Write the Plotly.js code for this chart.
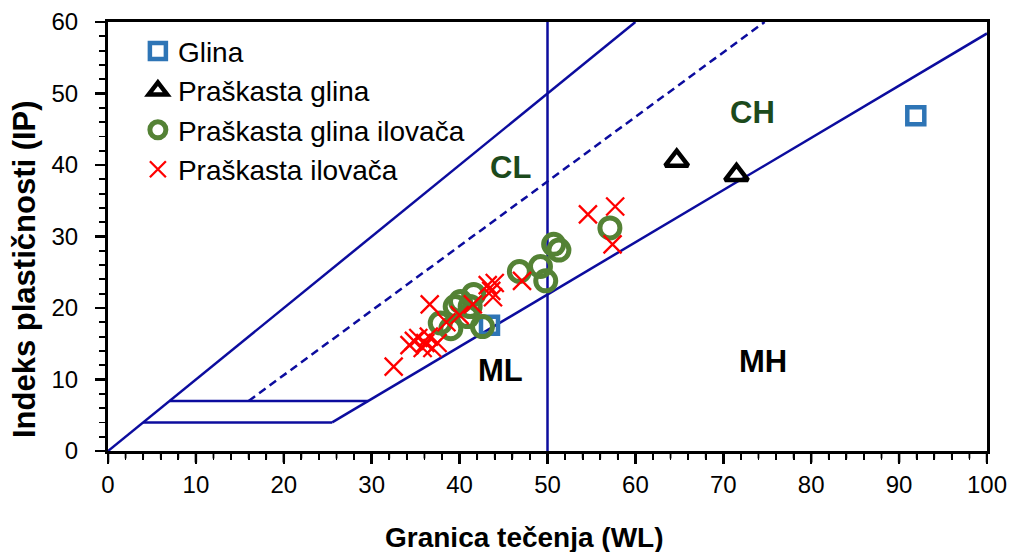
<!DOCTYPE html>
<html>
<head>
<meta charset="utf-8">
<script src="https://cdn.plot.ly/plotly-3.0.1.min.js"></script>
<style>html,body{margin:0;padding:0;background:#fff;}#chart{width:1013px;height:552px;}</style>
</head>
<body>
<div id="chart"></div>
<script>
// ---- Data ----
const glinaLL = [91.9, 43.4];
const glinaIP = [46.9, 17.6];

const praskGlinaLL = [64.7, 71.5];
const praskGlinaIP = [40.6, 38.6];

const praskGlinaIlovacaLL = [37.8, 39.0, 39.5, 40.1, 41.2, 40.9, 41.6, 42.6, 46.8, 49.2, 49.8, 50.7, 51.3, 57.1];
const praskGlinaIlovacaIP = [17.9, 17.1, 20.2, 20.9, 20.2, 18.8, 21.9, 17.4, 25.1, 25.8, 23.8, 28.9, 28.1, 31.2];

const praskIlovacaLL = [32.5, 34.3, 34.8, 35.3, 35.8, 36.1, 36.5, 36.9, 37.5, 36.6, 38.5, 40.0, 41.5, 43.2, 43.6, 44.0, 43.8, 47.1, 54.6, 57.7, 57.4];
const praskIlovacaIP = [11.8, 14.8, 15.4, 15.8, 14.4, 15.1, 16.0, 14.4, 15.1, 20.5, 18.0, 19.0, 20.5, 23.2, 22.4, 23.5, 21.5, 23.8, 33.1, 34.2, 28.9];

// Classification chart boundary lines (endpoints)
const upperLineLL = [0, 60];      const upperLineIP = [0, 60];
const aLineLL = [25.5, 100];      const aLineIP = [4, 58.4];
const uLineLL = [16, 74.7];       const uLineIP = [7, 60];
const pi4LL = [4, 25.5];          const pi4IP = [4, 4];
const pi7LL = [7, 29.6];          const pi7IP = [7, 7];
const ll50LL = [50, 50];          const ll50IP = [0, 60];

const zoneLabels = ['CL', 'CH', 'ML', 'MH'];
const zoneLL = [45.8, 73.3, 44.6, 74.5];
const zoneIP = [39.6, 47.3, 11.3, 12.5];
const zoneColors = ['#1c4a1c', '#1c4a1c', '#000000', '#000000'];

const xTitle = 'Granica tečenja (WL)';
const yTitle = 'Indeks plastičnosti (IP)';

// ---- Plot ----
const FONT = 'Liberation Sans, Arial, sans-serif';
const LINE_COLOR = '#0c0c9e';
function bline(x, y, dash) {
  return {x: x, y: y, type: 'scatter', mode: 'lines', showlegend: false, hoverinfo: 'skip',
          line: {color: LINE_COLOR, width: 2.5, dash: dash || 'solid'}};
}

const traces = [
  bline(upperLineLL, upperLineIP),
  bline(aLineLL, aLineIP),
  bline(uLineLL, uLineIP, '8px,5px'),
  bline(pi4LL, pi4IP),
  bline(pi7LL, pi7IP),
  bline(ll50LL, ll50IP),
  {x: glinaLL, y: glinaIP, type: 'scatter', mode: 'markers', name: 'Glina',
   marker: {symbol: 'square-open', size: 17, color: '#2e75b6', line: {width: 4.5, color: '#2e75b6'}}},
  {x: praskGlinaLL, y: praskGlinaIP, type: 'scatter', mode: 'markers', name: 'Praškasta glina',
   marker: {symbol: 'triangle-up-open', size: 20, color: '#000000', line: {width: 4.5, color: '#000000'}}},
  {x: praskGlinaIlovacaLL, y: praskGlinaIlovacaIP, type: 'scatter', mode: 'markers', name: 'Praškasta glina ilovača',
   marker: {symbol: 'circle-open', size: 20, color: '#548235', line: {width: 5, color: '#548235'}}},
  {x: praskIlovacaLL, y: praskIlovacaIP, type: 'scatter', mode: 'markers', name: 'Praškasta ilovača',
   marker: {symbol: 'x-thin-open', size: 18, color: '#ff0000', line: {width: 2.3, color: '#ff0000'}}}
];

const M = {l: 108, r: 26, t: 22, b: 101};
const W = 1013, H = 552;
const px2x = p => (p - M.l) / (W - M.l - M.r);
const py2y = p => (H - M.b - p) / (H - M.t - M.b);

const annotations = zoneLabels.map((t, i) => ({
  x: zoneLL[i], y: zoneIP[i], xref: 'x', yref: 'y', text: '<b>' + t + '</b>', showarrow: false,
  font: {family: FONT, size: 31, color: zoneColors[i]}
}));
annotations.push({
  x: px2x(524), xref: 'paper', y: py2y(537), yref: 'paper', xanchor: 'center', yanchor: 'middle',
  text: '<b>' + xTitle + '</b>', showarrow: false,
  font: {family: FONT, size: 28, color: '#000'}
});
annotations.push({
  x: px2x(24), xref: 'paper', y: py2y(269), yref: 'paper', xanchor: 'center', yanchor: 'middle',
  text: '<b>' + yTitle + '</b>', showarrow: false, textangle: -90,
  font: {family: FONT, size: 31, color: '#000'}
});

// x-axis tick marks reinforced as pixel-sized shapes placed on the x scale (major every 10, minor every 2)
const shapes = [];
for (let v = 0; v <= 100; v += 2) {
  const major = v % 10 === 0;
  shapes.push({
    type: 'line', xref: 'x', x0: v, x1: v, yref: 'paper', ysizemode: 'pixel', yanchor: 0,
    y0: -1.5, y1: major ? -11.5 : -7.5, layer: 'above',
    line: {color: '#000', width: major ? 2.5 : 1.8}
  });
}

const tickStyle = {
  ticks: 'outside', ticklen: 10, tickwidth: 2.5, tickcolor: '#000',
  tickmode: 'linear', tick0: 0,
  minor: {ticks: 'outside', ticklen: 6, tickwidth: 1.8, tickcolor: '#000', tick0: 0, dtick: 2, showgrid: false}
};
const axisCommon = Object.assign({
  showgrid: false, zeroline: false, showline: true, linecolor: '#000', linewidth: 3, mirror: true,
  tickfont: {family: FONT, size: 24, color: '#000'}
}, tickStyle);

const layout = {
  width: W, height: H,
  margin: M,
  paper_bgcolor: '#fff', plot_bgcolor: '#fff',
  showlegend: true,
  legend: {x: 0.034, y: 0.99, xanchor: 'left', yanchor: 'top', bgcolor: 'rgba(0,0,0,0)',
           font: {family: FONT, size: 28, color: '#000'}, tracegroupgap: 0, itemsizing: 'trace'},
  xaxis: Object.assign({}, axisCommon, {range: [0, 100], dtick: 10, ticklabelstandoff: 0}),
  yaxis: Object.assign({}, axisCommon, {range: [0, 60], dtick: 10, ticklabelstandoff: 12}),
  annotations: annotations,
  shapes: shapes
};

Plotly.newPlot('chart', traces, layout, {staticPlot: true, displayModeBar: false});
</script>
</body>
</html>
